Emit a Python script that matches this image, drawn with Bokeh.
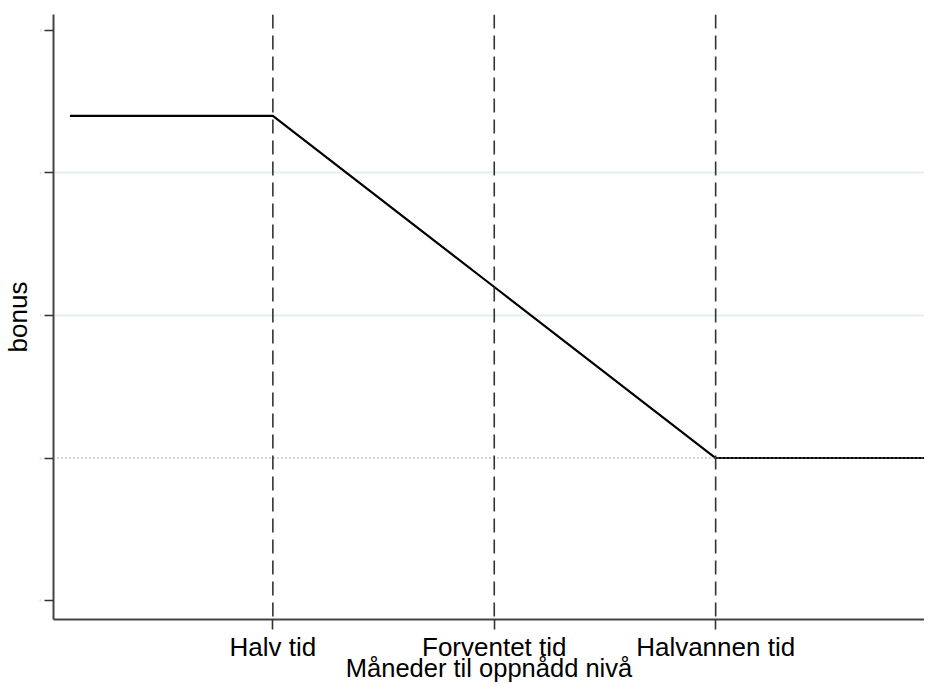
from bokeh.plotting import figure
from bokeh.models import Range1d, FixedTicker, Span
from bokeh.embed import file_html
from bokeh.resources import INLINE

# Data (months to reached level vs bonus)
months = [0.5, 6, 12, 18, 24]
bonus = [2.4, 2.4, 1.2, 0.0, 0.0]

x_ticks = [6, 12, 18]
x_tick_labels = ["Halv tid", "Forventet tid", "Halvannen tid"]
x_title = "Måneder til oppnådd nivå"
y_ticks = [-1, 0, 1, 2, 3]
y_grid = [1, 2]
ref_lines = [6, 12, 18]
zero_level = 0

FONT = "Liberation Sans"
Y0, Y1 = -1.133, 3.112

p = figure(width=924, height=684, output_backend="svg", toolbar_location=None,
           x_range=Range1d(0.055, 23.66), y_range=Range1d(Y0, Y1),
           min_border_left=45, min_border_right=0, min_border_top=14, min_border_bottom=64)
p.outline_line_color = None
p.background_fill_color = "white"
p.border_fill_color = "white"

# grid
p.xgrid.visible = False
p.ygrid.ticker = FixedTicker(ticks=y_grid)
p.ygrid.grid_line_color = "#e4eeee"
p.ygrid.grid_line_width = 2

# zero dotted line
p.add_layout(Span(location=zero_level, dimension="width", line_color="#8a8a8a",
                  line_width=1.5, line_dash="1 3"))

# vertical dashed reference lines
for xv in ref_lines:
    p.add_layout(Span(location=xv, dimension="height", line_color="#333333",
                      line_width=1.6, line_dash="14 7"))

# main line
p.line(months, bonus, line_color="black", line_width=2.2)

# x axis
p.xaxis.ticker = FixedTicker(ticks=x_ticks)
p.xaxis.major_label_overrides = {t: l for t, l in zip(x_ticks, x_tick_labels)}
p.xaxis.major_label_text_font = FONT
p.xaxis.major_label_text_font_size = "26px"
p.xaxis.major_label_text_color = "black"
p.xaxis.major_label_standoff = 2
p.xaxis.major_tick_in = 0
p.xaxis.major_tick_out = 10
p.xaxis.major_tick_line_color = "#333333"
p.xaxis.major_tick_line_width = 1.6
p.xaxis.minor_tick_line_color = None
p.xaxis.axis_line_color = "#444444"
p.xaxis.axis_line_width = 2
p.xaxis.axis_label = x_title
p.xaxis.axis_label_text_font = FONT
p.xaxis.axis_label_text_font_size = "25.5px"
p.xaxis.axis_label_text_font_style = "normal"
p.xaxis.axis_label_text_color = "black"
p.xaxis.axis_label_standoff = -11

# y axis
p.yaxis.ticker = FixedTicker(ticks=y_ticks)
p.yaxis.major_label_text_font = FONT
p.yaxis.major_label_text_font_size = "3px"
p.yaxis.major_label_text_color = "#bbbbbb"
p.yaxis.major_label_standoff = 3
p.yaxis.major_tick_in = 0
p.yaxis.major_tick_out = 9
p.yaxis.major_tick_line_color = "#333333"
p.yaxis.major_tick_line_width = 1.6
p.yaxis.minor_tick_line_color = None
p.yaxis.axis_line_color = "#444444"
p.yaxis.axis_line_width = 2
p.yaxis.axis_label = "bonus"
p.yaxis.axis_label_text_font = FONT
p.yaxis.axis_label_text_font_size = "26px"
p.yaxis.axis_label_text_font_style = "normal"
p.yaxis.axis_label_text_color = "black"
p.yaxis.axis_label_standoff = 2

open("out.html", "w").write(file_html(p, INLINE))
